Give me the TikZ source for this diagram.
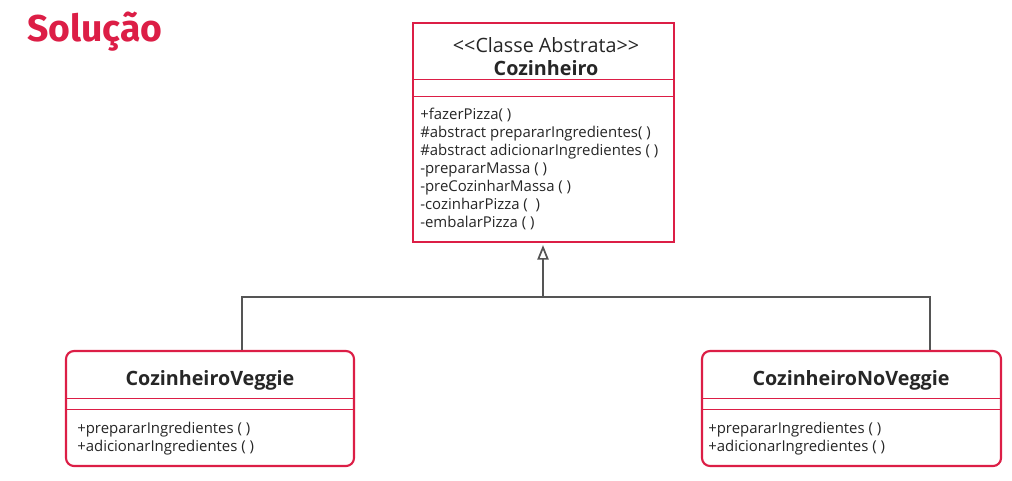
\documentclass[tikz,border=0pt]{standalone}
\usepackage{fontspec}
\setmainfont{Open Sans}
\newfontfamily\titlefont{Fira Sans}
\usepackage{tikz}
\usetikzlibrary{arrows.meta, positioning, calc}
\definecolor{umlred}{HTML}{DC1E46}
\definecolor{linkgray}{HTML}{555555}

\begin{document}
\begin{tikzpicture}[
  x=0.75pt, y=-0.75pt,
  umlbox/.style={draw=umlred, line width=1.6pt, fill=white, inner sep=0pt},
  divider/.style={draw=umlred, line width=0.6pt},
  classname/.style={font=\fontsize{14.8}{17}\selectfont\bfseries, text=black!85, inner sep=0pt},
  members/.style={font=\fontsize{11.2}{13.5}\selectfont, text=black!85, align=left,
    anchor=north west, inner sep=0pt},
  inherit/.style={draw=linkgray, line width=1.9pt},
  >={Triangle[open, length=11pt, width=8.5pt, line width=1.3pt]}
]
  \useasboundingbox (0,0) rectangle (1012,480);

  % Title
  \node[font=\titlefont\fontsize{28}{30}\selectfont\bfseries, text=umlred,
    anchor=west, inner sep=0pt] (titulo) at (27,32) {Solução};

  % Abstract class
  \node[umlbox, minimum width=195.75pt, minimum height=164.25pt]
    (cozinheiro) at (543.5,132.5) {};
  \node[font=\fontsize{14.8}{17}\selectfont, text=black!85, inner sep=0pt]
    (estereotipo) at (546,45) {{<}{<}Classe Abstrata{>}{>}};
  \node[classname] (nomecoz) at (546,68) {Cozinheiro};
  \draw[divider] (cozinheiro.west |- 0,79) -- (cozinheiro.east |- 0,79);
  \draw[divider] (cozinheiro.west |- 0,96) -- (cozinheiro.east |- 0,96);
  \node[members] (metcoz) at (420,107.5) {+fazerPizza( )\\
    \#abstract prepararIngredientes( )\\
    \#abstract adicionarIngredientes ( )\\
    -prepararMassa ( )\\
    -preCozinharMassa ( )\\
    -cozinharPizza (~~)\\
    -embalarPizza ( )};

  % Concrete classes
  \node[umlbox, rounded corners=6pt, minimum width=216pt, minimum height=86.25pt]
    (veggie) at (210,408.5) {};
  \node[classname] (nomeveg) at (210,380) {CozinheiroVeggie};
  \draw[divider] (veggie.west |- 0,398) -- (veggie.east |- 0,398);
  \draw[divider] (veggie.west |- 0,409) -- (veggie.east |- 0,409);
  \node[members] (metveg) at (77,422) {+prepararIngredientes ( )\\
    +adicionarIngredientes ( )};

  \node[umlbox, rounded corners=6pt, minimum width=224.25pt, minimum height=86.25pt]
    (noveggie) at (851.5,408.5) {};
  \node[classname] (nomenov) at (851,380) {CozinheiroNoVeggie};
  \draw[divider] (noveggie.west |- 0,398) -- (noveggie.east |- 0,398);
  \draw[divider] (noveggie.west |- 0,409) -- (noveggie.east |- 0,409);
  \node[members] (metnov) at (708,422) {+prepararIngredientes ( )\\
    +adicionarIngredientes ( )};

  % Inheritance
  \coordinate (juncao) at (543,297);
  \draw[inherit, ->] (juncao) -- ([yshift=-1.5pt]cozinheiro.south -| juncao);
  \draw[inherit] (veggie.north -| 242,0) |- (juncao) -| (noveggie.north -| 930,0);
\end{tikzpicture}
\end{document}
